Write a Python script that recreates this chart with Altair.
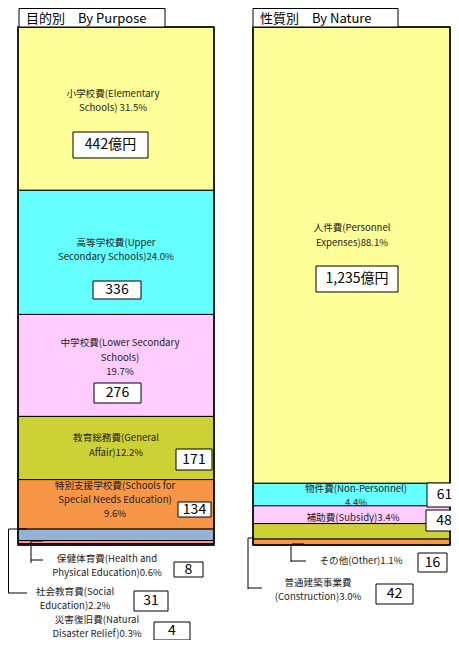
import altair as alt
import pandas as pd

# ---------------- data ----------------
purpose_names = ["小学校費", "高等学校費", "中学校費", "教育総務費", "特別支援学校費",
                 "社会教育費", "保健体育費", "災害復旧費"]
purpose_values = [442, 336, 276, 171, 134, 31, 8, 4]
purpose_colors = ["#FFFF99", "#66FFFF", "#FFCCFF", "#CCD236", "#F79646",
                  "#95B3D7", "#FF9999", "#B3A2C7"]

nature_names = ["人件費", "物件費", "補助費", "普通建築事業費", "その他"]
nature_values = [1235, 61, 48, 42, 16]
nature_colors = ["#FFFF99", "#66FFFF", "#FFCCFF", "#CCD236", "#F79646"]

# label texts (lines) per item
purpose_labels = [
    ["小学校費(Elementary", "Schools) 31.5%"],
    ["高等学校費(Upper", "Secondary Schools)24.0%"],
    ["中学校費(Lower Secondary", "Schools)", "19.7%"],
    ["教育総務費(General", "Affair)12.2%"],
    ["特別支援学校費(Schools for", "Special Needs Education)", "9.6%"],
    ["社会教育費(Social", "Education)2.2%"],
    ["保健体育費(Health and", "Physical Education)0.6%"],
    ["災害復旧費(Natural", "Disaster Relief)0.3%"],
]
purpose_box_text = ["442億円", "336", "276", "171", "134", "31", "8", "4"]

nature_labels = [
    ["人件費(Personnel", "Expenses)88.1%"],
    ["物件費(Non-Personnel)", "4.4%"],
    ["補助費(Subsidy)3.4%"],
    ["普通建築事業費", "(Construction)3.0%"],
    ["その他(Other)1.1%"],
]
nature_box_text = ["1,235億円", "61", "48", "42", "16"]

titles = ["目的別　By Purpose", "性質別　By Nature"]

# ---------------- layout (image pixel coords) ----------------
OFF = 8
W, H = 443, 632
BAR_TOP, BAR_BOT = 27 - OFF, 545 - OFF
LEFT_BAR = (18 - OFF, 214 - OFF)
RIGHT_BAR = (253 - OFF, 450 - OFF)
TOTAL = sum(purpose_values)
K = TOTAL / (BAR_BOT - BAR_TOP)


def v(py):  # image y pixel -> value units on y scale
    return (BAR_BOT - (py - OFF)) * K


def px(x):
    return x - OFF


# label line anchors: (center x, first line y, line spacing)
purpose_label_pos = [(113, 94, 14), (116, 243, 14), (120, 343, 14.5), (116, 438, 15),
                     (115, 485.5, 14.2), (75, 591.5, 14), (107, 559, 14.2), (97, 619.5, 14)]
nature_label_pos = [(352, 228, 15), (356, 489, 14.2), (353, 518, 14), (318, 583, 14),
                    (361, 561, 14)]

purpose_box_pos = [(73, 132, 148, 158), (93, 281, 141, 299), (94, 383, 141, 403),
                   (176, 449, 212, 470), (178, 502, 211, 517), (134, 591, 168, 611),
                   (174, 562, 203, 577), (154, 622, 190, 640)]
nature_box_pos = [(316, 266, 398, 292), (427, 483, 462, 507), (426, 510, 462, 531),
                  (376, 584, 413, 604), (418, 553, 447, 572)]

title_box_pos = [(19, 8.5, 165, 27), (253, 8.5, 398, 27)]
title_text_pos = [(26, 18.5), (260, 18.5)]

leaders = [
    # social education
    (27, 529, 8.5, 529), (8.5, 529, 8.5, 593), (8.5, 593, 27, 593),
    # health
    (31, 541, 43, 541), (31, 541, 31, 563), (31, 560, 43, 560),
    # other
    (292, 544, 304, 544), (291, 544, 291, 562), (291, 561, 306, 561),
    # construction
    (248, 538, 253, 538), (248, 538, 248, 589), (248, 588, 262, 588),
]

# ---------------- tables ----------------
bar_rows = []
for names, vals, cols, (x1, x2) in [
    (purpose_names, purpose_values, purpose_colors, LEFT_BAR),
    (nature_names, nature_values, nature_colors, RIGHT_BAR),
]:
    cum = 0
    for n, val, c in zip(names, vals, cols):
        bar_rows.append(dict(name=n, value=val, color=c, x1=x1, x2=x2,
                             ytop=TOTAL - cum, ybot=TOTAL - cum - val))
        cum += val
bars_df = pd.DataFrame(bar_rows)

text_rows = []
for labels, poss in [(purpose_labels, purpose_label_pos), (nature_labels, nature_label_pos)]:
    for lines, (cx, y0, dy) in zip(labels, poss):
        for i, line in enumerate(lines):
            text_rows.append(dict(t=line, x=px(cx), y=v(y0 + i * dy)))
text_df = pd.DataFrame(text_rows)

box_rows = []
for texts, poss in [(purpose_box_text, purpose_box_pos), (nature_box_text, nature_box_pos)]:
    for t, (x1, y1, x2, y2) in zip(texts, poss):
        box_rows.append(dict(t=t, x1=px(x1), x2=px(x2), y1=v(y1), y2=v(y2),
                             cx=px((x1 + x2) / 2), cy=v((y1 + y2) / 2)))
box_df = pd.DataFrame(box_rows)

title_rows = []
for t, (x1, y1, x2, y2), (tx, ty) in zip(titles, title_box_pos, title_text_pos):
    title_rows.append(dict(t=t, x1=px(x1), x2=px(x2), y1=v(y1), y2=v(y2),
                           tx=px(tx), ty=v(ty)))
title_df = pd.DataFrame(title_rows)

lead_df = pd.DataFrame([dict(x1=px(a), y1=v(b), x2=px(c), y2=v(d)) for a, b, c, d in leaders])

# ---------------- scales ----------------
xs = alt.Scale(domain=[0, W], nice=False, zero=False)
ys = alt.Scale(domain=[v(H + OFF), v(OFF)], nice=False, zero=False)
FONT = "Noto Sans CJK JP"

bars = alt.Chart(bars_df).mark_rect(stroke="#000000", strokeWidth=1).encode(
    x=alt.X("x1:Q", scale=xs, axis=None),
    x2="x2:Q",
    y=alt.Y("ytop:Q", scale=ys, axis=None),
    y2="ybot:Q",
    fill=alt.Fill("color:N", scale=None),
)

outline = alt.Chart(bars_df).mark_rect(fill=None, stroke="#000000", strokeWidth=1.5).encode(
    x=alt.X("min(x1):Q", scale=xs, axis=None),
    x2="max(x2)",
    y=alt.Y("max(ytop):Q", scale=ys, axis=None),
    y2="min(ybot)",
    detail="x1:Q",
)

leads = alt.Chart(lead_df).mark_rule(color="#000000", strokeWidth=1).encode(
    x=alt.X("x1:Q", scale=xs, axis=None), x2="x2:Q",
    y=alt.Y("y1:Q", scale=ys, axis=None), y2="y2:Q",
)

labels = alt.Chart(text_df).mark_text(font=FONT, fontSize=9.6, color="#222222",
                                      align="center", baseline="middle").encode(
    x=alt.X("x:Q", scale=xs, axis=None),
    y=alt.Y("y:Q", scale=ys, axis=None),
    text="t:N",
)

boxes = alt.Chart(box_df).mark_rect(fill="#FFFFFF", stroke="#000000", strokeWidth=1).encode(
    x=alt.X("x1:Q", scale=xs, axis=None), x2="x2:Q",
    y=alt.Y("y1:Q", scale=ys, axis=None), y2="y2:Q",
)
box_text = alt.Chart(box_df).mark_text(font=FONT, fontSize=14, color="#000000",
                                       align="center", baseline="middle").encode(
    x=alt.X("cx:Q", scale=xs, axis=None),
    y=alt.Y("cy:Q", scale=ys, axis=None),
    text="t:N",
)

tboxes = alt.Chart(title_df).mark_rect(fill="#FFFFFF", stroke="#000000", strokeWidth=1).encode(
    x=alt.X("x1:Q", scale=xs, axis=None), x2="x2:Q",
    y=alt.Y("y1:Q", scale=ys, axis=None), y2="y2:Q",
)
ttext = alt.Chart(title_df).mark_text(font=FONT, fontSize=13, color="#000000",
                                      align="left", baseline="middle").encode(
    x=alt.X("tx:Q", scale=xs, axis=None),
    y=alt.Y("ty:Q", scale=ys, axis=None),
    text="t:N",
)

chart = alt.layer(bars, outline, leads, labels, boxes, box_text, tboxes, ttext).properties(
    width=W, height=H, padding=0, autosize="none", background="#FFFFFF"
).configure_view(stroke=None)

chart.save("out.html", embed_options={"renderer": "svg", "actions": False})
